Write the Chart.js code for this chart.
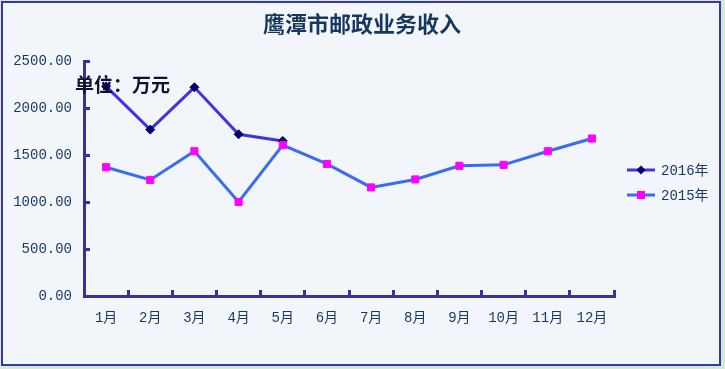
<!DOCTYPE html>
<html>
<head>
<meta charset="utf-8">
<script src="https://cdn.jsdelivr.net/npm/chart.js@4.4.1/dist/chart.umd.min.js"></script>
<style>
  html, body { margin: 0; padding: 0; background: #d3ead3; }
  #wrap { width: 725px; height: 369px; }
</style>
</head>
<body>
<div id="wrap"><canvas id="line" width="725" height="369"></canvas></div>
<script>
// 鹰潭市邮政业务收入 (单位：万元)
const months = ['1月', '2月', '3月', '4月', '5月', '6月', '7月', '8月', '9月', '10月', '11月', '12月'];
const income2016 = [2230, 1770, 2220, 1720, 1650, null, null, null, null, null, null, null];
const income2015 = [1370, 1235, 1540, 1000, 1605, 1405, 1155, 1240, 1385, 1395, 1540, 1675];
const yTicks = [0, 500, 1000, 1500, 2000, 2500];

const axisColor = '#333399';
const labelFont = { family: "'Liberation Mono', 'Noto Sans CJK SC', monospace", size: 14 };

// frame, title, unit note and a legend with line + marker
const decorPlugin = {
  id: 'decor',
  beforeDraw(chart) {
    const ctx = chart.ctx;
    ctx.save();
    ctx.fillStyle = '#d3ead3';
    ctx.fillRect(0, 0, chart.width, chart.height);
    ctx.fillStyle = '#f2f6fb';
    ctx.fillRect(2, 2, 718, 363);
    ctx.strokeStyle = '#3b37a0';
    ctx.lineWidth = 2;
    ctx.strokeRect(2, 2, 718, 363);
    ctx.restore();
  },
  afterDraw(chart) {
    const ctx = chart.ctx;
    ctx.save();
    ctx.fillStyle = '#17375e';
    ctx.font = "bold 22px 'Noto Sans CJK SC'";
    ctx.textAlign = 'center';
    ctx.textBaseline = 'middle';
    ctx.fillText('鹰潭市邮政业务收入', 362, 24);

    ctx.fillStyle = '#111133';
    ctx.font = "bold 19px 'Noto Sans CJK SC'";
    ctx.textAlign = 'left';
    ctx.fillText('单位：万元', 75, 85);

    // legend
    const rows = [chart.data.datasets[0], chart.data.datasets[1]];
    ctx.font = "14px 'Liberation Mono', 'Noto Sans CJK SC', monospace";
    ctx.textBaseline = 'middle';
    rows.forEach((ds, i) => {
      const y = 170 + i * 25;
      ctx.strokeStyle = ds.borderColor;
      ctx.lineWidth = 3;
      ctx.beginPath();
      ctx.moveTo(627, y);
      ctx.lineTo(655, y);
      ctx.stroke();
      ctx.fillStyle = ds.pointBackgroundColor;
      if (ds.pointStyle === 'rectRot') {
        ctx.beginPath();
        ctx.moveTo(641, y - 4.5);
        ctx.lineTo(645.5, y);
        ctx.lineTo(641, y + 4.5);
        ctx.lineTo(636.5, y);
        ctx.closePath();
        ctx.fill();
      } else {
        ctx.fillRect(637, y - 4, 8, 8);
      }
      ctx.fillStyle = '#17375e';
      ctx.fillText(ds.label, 661, y + 1);
    });
    ctx.restore();
  }
};

const lineConfig = {
  type: 'line',
  data: {
    labels: months,
    datasets: [
      {
        label: '2016年',
        data: income2016,
        borderColor: '#3a36e8',
        borderWidth: 3,
        pointStyle: 'rectRot',
        pointRadius: 4.5,
        pointBackgroundColor: '#000066',
        pointBorderColor: '#000066',
        pointBorderWidth: 1,
        tension: 0,
        spanGaps: false,
        order: 1,
      },
      {
        label: '2015年',
        data: income2015,
        borderColor: '#3a6cf2',
        borderWidth: 3,
        pointStyle: 'rect',
        pointRadius: 5,
        pointBackgroundColor: '#ff00ff',
        pointBorderColor: '#ff00ff',
        pointBorderWidth: 1,
        tension: 0,
        order: 0,
      },
    ],
  },
  options: {
    responsive: false,
    animation: false,
    layout: { padding: { left: 0, top: 61, right: 111, bottom: 0 } },
    plugins: {
      legend: { display: false },
      title: { display: false },
      tooltip: { enabled: false },
    },
    scales: {
      x: {
        type: 'category',
        offset: true,
        border: { color: axisColor, width: 3 },
        grid: {
          offset: true,
          drawOnChartArea: false,
          drawTicks: true,
          tickLength: -6,
          color: axisColor,
          lineWidth: 3,
        },
        ticks: { color: '#17375e', font: labelFont, padding: 20, maxRotation: 0, autoSkip: false },
        afterFit(scale) { scale.height = 73; },
      },
      y: {
        min: 0,
        max: 2500,
        border: { color: axisColor, width: 3 },
        grid: {
          drawOnChartArea: false,
          drawTicks: true,
          tickLength: -6,
          color: axisColor,
          lineWidth: 3,
        },
        afterBuildTicks(scale) { scale.ticks = yTicks.map(v => ({ value: v })); },
        ticks: {
          color: '#17375e',
          font: labelFont,
          padding: 18,
          callback: v => Number(v).toFixed(2),
        },
        afterFit(scale) { scale.width = 84; },
      },
    },
  },
  plugins: [decorPlugin],
};

const lineCtx = document.getElementById('line');
window.myLine = new Chart(lineCtx, lineConfig);
</script>
</body>
</html>
